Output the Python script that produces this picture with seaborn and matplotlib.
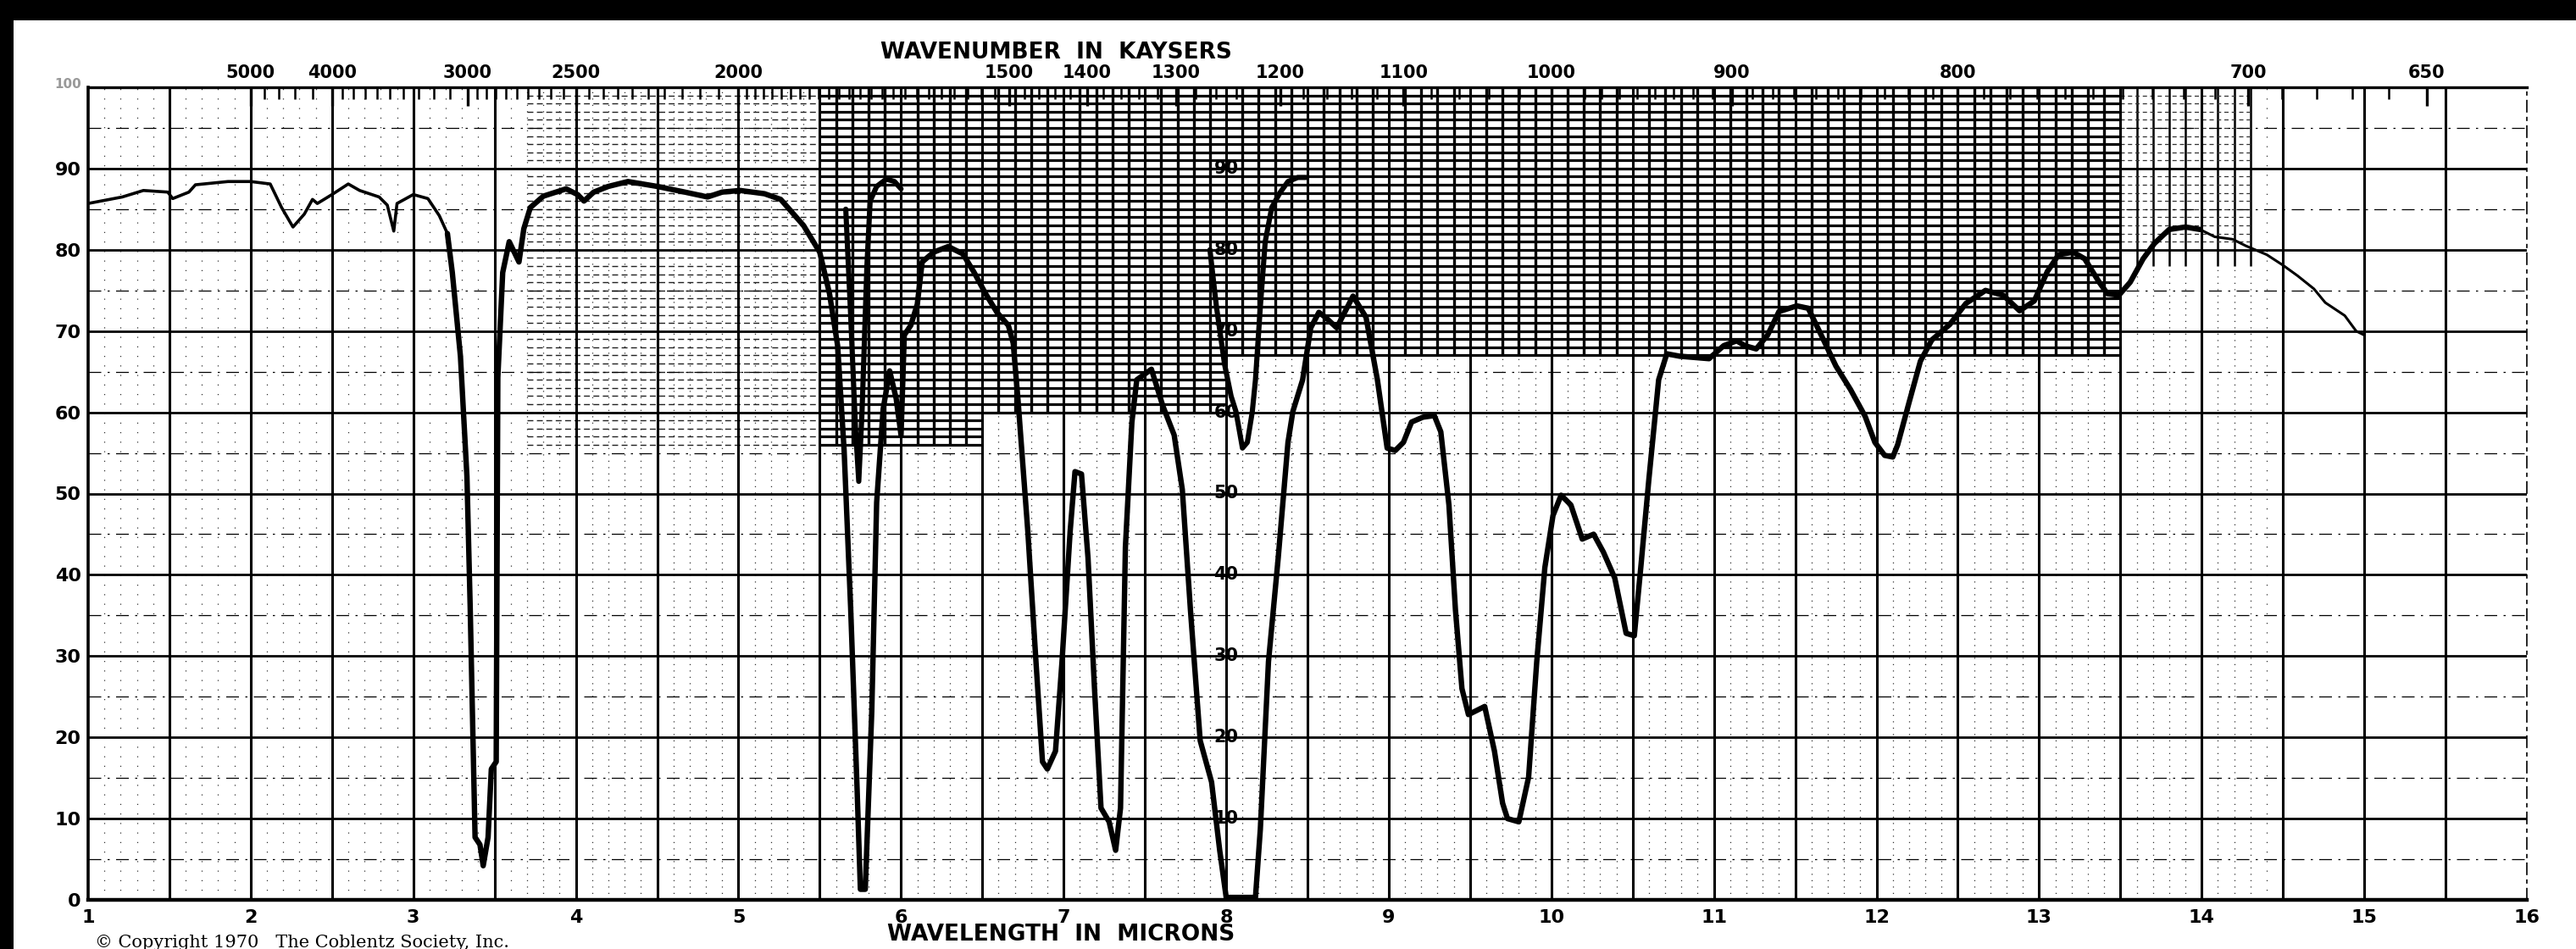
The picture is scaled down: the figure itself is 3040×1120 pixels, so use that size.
import numpy as np
import pandas as pd
import matplotlib
matplotlib.use("Agg")
import matplotlib.pyplot as plt
import seaborn as sns
from matplotlib.patches import Rectangle

# ---------------- data ----------------
wavelength_main = [
    1.00, 1.21, 1.34, 1.49, 1.52, 1.62, 1.66, 1.86, 2.00, 2.12, 2.19, 2.26, 2.33, 2.38, 2.41,
    2.50, 2.60, 2.67, 2.79, 2.84, 2.88, 2.90, 3.00, 3.09, 3.16, 3.21, 3.24, 3.29, 3.33, 3.35,
    3.38, 3.41, 3.43, 3.46, 3.48, 3.51, 3.52, 3.55, 3.59, 3.65, 3.68, 3.72, 3.80, 3.94, 4.01,
    4.05, 4.11, 4.20, 4.32, 4.50, 4.67, 4.81, 4.90, 5.01, 5.16, 5.26, 5.40, 5.50, 5.56, 5.61,
    5.65, 5.69, 5.73, 5.75, 5.78, 5.82, 5.85, 5.89, 5.93, 5.97, 6.00, 6.02, 6.06, 6.10, 6.13,
    6.20, 6.29, 6.38, 6.45, 6.52, 6.59, 6.66, 6.69, 6.72, 6.78, 6.83, 6.87, 6.90, 6.95, 6.99,
    7.04, 7.07, 7.11, 7.15, 7.19, 7.23, 7.28, 7.32, 7.35, 7.38, 7.42, 7.45, 7.54, 7.61, 7.68,
    7.73, 7.78, 7.84, 7.91, 7.96, 8.00, 8.18, 8.21, 8.26, 8.32, 8.38, 8.41, 8.47, 8.52, 8.57,
    8.61, 8.68, 8.78, 8.86, 8.93, 8.99, 9.04, 9.09, 9.14, 9.21, 9.28, 9.32, 9.37, 9.41, 9.45,
    9.49, 9.53, 9.59, 9.65, 9.70, 9.73, 9.80, 9.86, 9.91, 9.96, 10.01, 10.06, 10.12, 10.19, 10.26,
    10.32, 10.39, 10.46, 10.51, 10.55, 10.60, 10.66, 10.71, 10.79, 10.97, 11.06, 11.14, 11.19, 11.26, 11.33,
    11.40, 11.51, 11.58, 11.66, 11.75, 11.84, 11.93, 11.99, 12.05, 12.10, 12.13, 12.20, 12.27, 12.34, 12.45,
    12.55, 12.67, 12.78, 12.88, 12.97, 13.05, 13.12, 13.21, 13.28, 13.37, 13.42, 13.49, 13.56, 13.64, 13.71,
    13.80, 13.90, 13.99, 14.08, 14.19, 14.27, 14.40, 14.50, 14.59, 14.69, 14.76, 14.88, 14.95, 15.00,
]
transmittance_main = [
    85.7, 86.5, 87.3, 87.1, 86.3, 87.1, 88.0, 88.4, 88.4, 88.1, 85.2, 82.8, 84.4, 86.2, 85.7,
    86.8, 88.1, 87.3, 86.5, 85.5, 82.3, 85.7, 86.8, 86.3, 84.2, 82.0, 77.2, 66.9, 52.1, 36.0,
    7.7, 6.8, 4.2, 7.7, 16.1, 17.0, 64.3, 77.2, 81.0, 78.5, 82.6, 85.2, 86.6, 87.5, 86.8,
    86.0, 87.1, 87.8, 88.4, 87.8, 87.1, 86.5, 87.1, 87.3, 86.9, 86.2, 83.0, 79.7, 74.6, 68.2,
    55.3, 36.0, 13.5, 1.3, 1.3, 23.2, 48.9, 60.4, 65.1, 61.7, 57.2, 69.5, 70.7, 73.3, 78.5,
    79.7, 80.4, 79.5, 77.2, 74.6, 72.3, 70.7, 68.5, 61.4, 45.3, 29.3, 17.0, 16.1, 18.3, 29.3,
    45.3, 52.7, 52.4, 42.1, 26.0, 11.3, 9.6, 6.1, 11.3, 43.4, 58.8, 64.0, 65.3, 60.8, 57.2,
    50.5, 35.7, 19.6, 14.5, 6.1, 0.3, 0.3, 8.7, 29.3, 42.1, 56.3, 60.1, 64.0, 70.4, 72.3,
    71.7, 70.4, 74.3, 71.7, 64.0, 55.6, 55.3, 56.3, 58.8, 59.4, 59.6, 57.6, 48.6, 35.7, 26.0,
    22.8, 23.2, 23.8, 18.3, 11.9, 10.0, 9.6, 15.1, 29.3, 40.9, 47.3, 49.8, 48.6, 44.4, 45.0,
    42.8, 39.6, 32.8, 32.5, 40.9, 51.8, 64.0, 67.2, 66.9, 66.6, 68.2, 68.8, 68.2, 67.8, 69.5,
    72.4, 73.1, 72.8, 69.5, 65.7, 62.8, 59.5, 56.3, 54.7, 54.5, 56.0, 61.2, 66.3, 68.9, 70.8,
    73.4, 75.0, 74.4, 72.5, 73.7, 77.3, 79.4, 79.7, 78.9, 76.0, 74.6, 74.4, 76.0, 78.9, 80.8,
    82.5, 82.8, 82.5, 81.6, 81.3, 80.5, 79.4, 78.1, 76.8, 75.2, 73.5, 71.9, 70.0, 69.5,
]
# second (diluted) trace, two short overlays
wavelength_overlay_a = [5.66, 5.69, 5.72, 5.74, 5.76, 5.79, 5.81, 5.85, 5.91, 5.96, 6.00]
transmittance_overlay_a = [85.0, 72.0, 58.0, 51.5, 60.0, 78.0, 86.0, 87.8, 88.7, 88.4, 87.5]
wavelength_overlay_b = [7.90, 7.94, 7.99, 8.03, 8.06, 8.10, 8.13, 8.16, 8.18, 8.21, 8.24, 8.28, 8.33, 8.38, 8.44, 8.49]
transmittance_overlay_b = [80.0, 73.0, 65.9, 62.0, 60.1, 55.6, 56.3, 60.0, 64.0, 73.0, 81.0, 85.2, 87.0, 88.4, 88.9, 88.9]

x_tick_values = list(range(1, 17))
y_tick_values = list(range(0, 100, 10))
wavenumber_labels = [5000, 4000, 3000, 2500, 2000, 1500, 1400, 1300, 1200, 1100, 1000, 900, 800, 700, 650]
inner_scale_values = [10, 20, 30, 40, 50, 60, 70, 80, 90]

# ---------------- figure ----------------
sns.set_style("white")
plt.rcParams['font.family'] = ['DejaVu Sans']
for key in ['text.color', 'axes.labelcolor', 'xtick.color', 'ytick.color', 'axes.edgecolor']:
    plt.rcParams[key] = 'black'

W, H = 3040, 1120
fig = plt.figure(figsize=(W / 100, H / 100), dpi=100)
fig.patch.set_facecolor('white')
x_left, x_right, y_top, y_bot = 104, 2982, 103, 1062
ax = fig.add_axes([x_left / W, 1 - y_bot / H, (x_right - x_left) / W, (y_bot - y_top) / H])
ax.set_xlim(1, 16)
ax.set_ylim(0, 100)
ax.set_facecolor('white')

# ---------------- chart-paper grid ----------------
ax.vlines(np.arange(1.5, 16.0, 0.5), 0, 100, colors='k', lw=2.2, zorder=2)
ax.hlines(np.arange(10, 100, 10), 1, 16, colors='k', lw=2.0, zorder=2)
ax.hlines(np.arange(5, 100, 10), 1, 16, colors='k', lw=0.9,
          linestyles=[(0, (12, 6, 2, 6))], zorder=2)
tenths = np.round(np.arange(1.1, 16.0, 0.1), 2)
tenths = tenths[np.abs(tenths * 2 - np.round(tenths * 2)) > 0.05]
sparse_t = tenths[(tenths < 3.7) | ((tenths > 14.3) & (tenths < 14.5))]
ax.vlines(sparse_t, 0, 100, colors='#333333', lw=0.9, linestyles=[(0, (1, 8))], zorder=1)

# medium region 3.7 - 5.5
mid_t = tenths[(tenths > 3.65) & (tenths < 5.5)]
ax.vlines(mid_t, 0, 100, colors='#333333', lw=0.9, linestyles=[(0, (1, 5))], zorder=1)
ax.hlines(np.arange(56, 100, 1), 3.7, 5.5, colors='#222222', lw=1.0,
          linestyles=[(0, (5, 3))], zorder=1)

# dense region 5.5 - 13.5
bands = [(5.5, 6.5, 56), (6.5, 8.0, 60), (8.0, 13.5, 67)]
for x0, x1, yb in bands:
    sel = tenths[(tenths >= x0 - 1e-6) & (tenths < x1 - 1e-6)]
    ax.vlines(sel, yb, 100, colors='k', lw=2.4, zorder=1)
    ax.vlines(sel, 0, yb, colors='#333333', lw=0.9, linestyles=[(0, (1, 5))], zorder=1)
    ax.hlines(np.arange(yb, 100, 1), x0, x1, colors='k', lw=2.3, zorder=1)
# lighter region 13.5 - 14.3
sel = tenths[(tenths > 13.5) & (tenths < 14.35)]
ax.vlines(sel, 78, 100, colors='k', lw=1.8, zorder=1)
ax.vlines(sel, 0, 78, colors='#333333', lw=0.9, linestyles=[(0, (1, 5))], zorder=1)
ax.hlines(np.arange(80, 100, 1), 13.5, 14.3, colors='#333333', lw=0.9,
          linestyles=[(0, (4, 3))], zorder=1)

# ---------------- spectra ----------------
main_df = pd.DataFrame({'wavelength': wavelength_main, 'transmittance': transmittance_main})
segments = [
    (main_df[main_df.wavelength <= 3.24], 2.6),
    (main_df[(main_df.wavelength >= 3.21) & (main_df.wavelength <= 13.99)], 4.6),
    (main_df[main_df.wavelength >= 13.90], 2.2),
]
for seg, lw in segments:
    sns.lineplot(data=seg, x='wavelength', y='transmittance', ax=ax, color='black',
                 lw=lw, sort=False, estimator=None, zorder=6, legend=False)
for xs, ys in [(wavelength_overlay_a, transmittance_overlay_a),
               (wavelength_overlay_b, transmittance_overlay_b)]:
    sns.lineplot(x=xs, y=ys, ax=ax, color='black', lw=4.4, sort=False,
                 estimator=None, zorder=6, legend=False)

# inner percent scale along 8 micron line
for v in inner_scale_values:
    ax.text(8.0, v, str(v), ha='center', va='center', fontsize=15,
            fontweight='bold', color='black', zorder=7)

# ---------------- axes, ticks, labels ----------------
ax.set_xlabel('')
ax.set_ylabel('')
ax.set_xticks(x_tick_values)
ax.set_xticklabels([str(v) for v in x_tick_values], fontsize=16, fontweight='bold', color='black')
ax.set_yticks(y_tick_values)
ax.set_yticklabels([str(v) for v in y_tick_values], fontsize=16, fontweight='bold', color='black')
ax.tick_params(axis='x', length=0, pad=8)
ax.tick_params(axis='y', length=0, pad=6)
for side, lw in [('top', 2.4), ('left', 2.6), ('bottom', 3.2)]:
    ax.spines[side].set_visible(True)
    ax.spines[side].set_linewidth(lw)
    ax.spines[side].set_color('black')
ax.spines['right'].set_visible(True)
ax.spines['right'].set_linewidth(1.2)
ax.spines['right'].set_linestyle((0, (8, 4, 2, 4)))
ax.spines['right'].set_color('black')

ax2 = ax.twiny()
ax2.set_xlim(1, 16)
ax2.set_xticks([1e4 / w for w in wavenumber_labels])
ax2.set_xticklabels([str(w) for w in wavenumber_labels], fontsize=15, fontweight='bold', color='black')
minor_wn = (list(range(4200, 5000, 200)) + list(range(3100, 4000, 100)) +
            list(range(2050, 3000, 50)) + list(range(1020, 2000, 20)) +
            list(range(660, 1000, 10)))
minor_wn = [w for w in minor_wn if w not in wavenumber_labels]
ax2.set_xticks([1e4 / w for w in minor_wn], minor=True)
ax2.tick_params(axis='x', which='major', direction='in', length=16, width=2.4, pad=5)
ax2.tick_params(axis='x', which='minor', direction='in', length=10, width=1.8)
for s in ax2.spines.values():
    s.set_visible(False)

fig.text(1246 / W, 1 - 62 / H, 'WAVENUMBER  IN  KAYSERS', ha='center', va='center',
         fontsize=19, fontweight='bold', color='black')
fig.text(1252 / W, 1 - 1103 / H, 'WAVELENGTH  IN  MICRONS', ha='center', va='center',
         fontsize=19, fontweight='bold', color='black')
fig.text(112 / W, 1 - 1103 / H, '\u00a9 Copyright 1970   The Coblentz Society, Inc.',
         ha='left', va='top', fontsize=15, family='DejaVu Serif', color='black')
fig.text(96 / W, 1 - 99 / H, '100', ha='right', va='center', fontsize=11,
         color='#999999', fontweight='bold')

# scan border
fig.add_artist(Rectangle((0, 1 - 24 / H), 1, 24 / H, transform=fig.transFigure,
                         facecolor='black', edgecolor='none', zorder=20))
fig.add_artist(Rectangle((0, 0), 16 / W, 1, transform=fig.transFigure,
                         facecolor='black', edgecolor='none', zorder=20))

fig.savefig('out.png', dpi=100, facecolor='white')
